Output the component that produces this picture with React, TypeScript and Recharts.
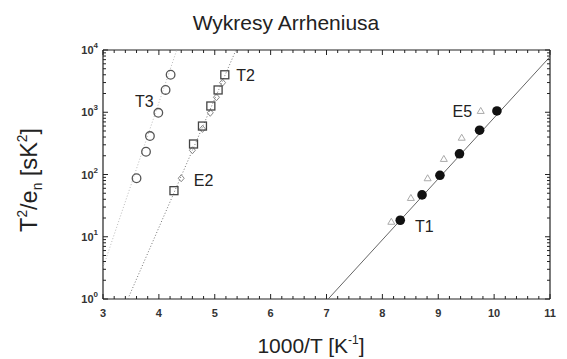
import React from 'react';
import { ScatterChart, Scatter, XAxis, YAxis, ReferenceDot } from 'recharts';

// measured points (1000/T, T^2/e_n)
const t3 = [
  { x: 3.6, y: 87 }, { x: 3.77, y: 232 }, { x: 3.84, y: 415 },
  { x: 3.99, y: 980 }, { x: 4.12, y: 2280 }, { x: 4.21, y: 4000 },
];
const t2 = [
  { x: 4.27, y: 55 }, { x: 4.62, y: 309 }, { x: 4.78, y: 600 },
  { x: 4.93, y: 1260 }, { x: 5.06, y: 2280 }, { x: 5.18, y: 4000 },
];
const e2 = [
  { x: 4.4, y: 87 }, { x: 4.6, y: 245 }, { x: 4.78, y: 540 },
  { x: 4.92, y: 980 }, { x: 5.03, y: 1740 }, { x: 5.14, y: 2990 },
];
const t1 = [
  { x: 8.32, y: 18.4 }, { x: 8.71, y: 47 }, { x: 9.03, y: 97 },
  { x: 9.38, y: 215 }, { x: 9.74, y: 515 }, { x: 10.05, y: 1050 },
];
const e5 = [
  { x: 8.16, y: 17.4 }, { x: 8.51, y: 42 }, { x: 8.81, y: 87 },
  { x: 9.1, y: 178 }, { x: 9.42, y: 390 }, { x: 9.76, y: 1050 },
];

// fitted lines
const t3Fit = [{ x: 3, y: 3.2 }, { x: 4.32, y: 10000 }];
const t2Fit = [{ x: 3.445, y: 1 }, { x: 5.38, y: 10000 }];
const t1Fit = [{ x: 7.03, y: 1 }, { x: 11, y: 7800 }];

const labels = [
  { text: 'T3', x: 3.74, y: 1480 },
  { text: 'T2', x: 5.55, y: 3980 },
  { text: 'E2', x: 4.8, y: 81 },
  { text: 'E5', x: 9.43, y: 1050 },
  { text: 'T1', x: 8.75, y: 14.8 },
];

const xMajor = [3, 4, 5, 6, 7, 8, 9, 10, 11];
const yMajor = [1, 10, 100, 1000, 10000];

const xTicks: number[] = [];
for (let i = 0; i <= 40; i++) xTicks.push(Math.round((3 + i * 0.2) * 10) / 10);
const yTicks: number[] = [];
for (let e = 0; e < 4; e++) for (let m = 1; m < 10; m++) yTicks.push(m * Math.pow(10, e));
yTicks.push(10000);

const FONT = '"Liberation Sans", Arial, sans-serif';
const INK = '#222';

const XTick = ({ x, y, payload, side }: any) => {
  const v = payload.value;
  const major = xMajor.includes(v);
  const len = major ? 5 : 3;
  const dir = side === 'bottom' ? -1 : 1;
  return (
    <g>
      <line x1={x} y1={y} x2={x} y2={y + dir * len} stroke={INK} strokeWidth={1} />
      {major && side === 'bottom' && (
        <text x={x} y={y + 18} textAnchor="middle" fontSize={11} fontWeight="bold" fontFamily={FONT} fill="#333">
          {v}
        </text>
      )}
    </g>
  );
};

const YTick = ({ x, y, payload, side }: any) => {
  const v = payload.value;
  const major = yMajor.includes(v);
  const len = major ? 5 : 3;
  const dir = side === 'left' ? 1 : -1;
  const exp = Math.round(Math.log10(v));
  return (
    <g>
      <line x1={x} y1={y} x2={x + dir * len} y2={y} stroke={INK} strokeWidth={1} />
      {major && side === 'left' && (
        <text x={x - 5} y={y + 4} textAnchor="end" fontSize={11} fontWeight="bold" fontFamily={FONT} fill="#333">
          <tspan>10</tspan>
          <tspan dy={-6} fontSize={8}>{exp}</tspan>
        </text>
      )}
    </g>
  );
};

const circle = (p: any) => <circle cx={p.cx} cy={p.cy} r={4.3} fill="none" stroke="#555" strokeWidth={1.3} />;
const dot = (p: any) => <circle cx={p.cx} cy={p.cy} r={4.8} fill="#111" />;
const square = (p: any) => (
  <rect x={p.cx - 4} y={p.cy - 4} width={8} height={8} fill="none" stroke="#444" strokeWidth={1.3} />
);
const diamond = (p: any) => (
  <path d={`M${p.cx},${p.cy - 3.5}L${p.cx + 3},${p.cy}L${p.cx},${p.cy + 3.5}L${p.cx - 3},${p.cy}Z`} fill="none" stroke="#888" strokeWidth={1} />
);
const triangle = (p: any) => (
  <path d={`M${p.cx},${p.cy - 3.5}L${p.cx + 3.5},${p.cy + 2.5}L${p.cx - 3.5},${p.cy + 2.5}Z`} fill="none" stroke="#aaa" strokeWidth={1} />
);
const none = () => null;

export default function App() {
  return (
    <div style={{ position: 'absolute', left: 0, top: 0, width: 567, height: 359, background: '#fff', fontFamily: FONT }}>
      <svg width={567} height={359} style={{ position: 'absolute', left: 0, top: 0 }}>
        <text x={286} y={30} textAnchor="middle" fontSize={21} fontFamily={FONT} fill={INK}>Wykresy Arrheniusa</text>
        <text x={311} y={353} textAnchor="middle" fontSize={21} fontFamily={FONT} fill={INK}>
          1000/T [K<tspan dy={-9} fontSize={12}>-1</tspan><tspan dy={9}>]</tspan>
        </text>
        <text
          transform="translate(37,180) rotate(-90)" textAnchor="middle" fontSize={24} fontFamily={FONT} fill={INK}
          textLength={104} lengthAdjust="spacingAndGlyphs"
        >
          T<tspan dy={-10} fontSize={14}>2</tspan><tspan dy={10}>/e</tspan><tspan dy={5} fontSize={14}>n</tspan>
          <tspan dy={-5}> [sK</tspan><tspan dy={-10} fontSize={14}>2</tspan><tspan dy={10}>]</tspan>
        </text>
      </svg>
      <div style={{ position: 'absolute', left: 0, top: 0 }}>
        <ScatterChart width={567} height={359} margin={{ top: 49, right: 16, bottom: 59, left: 102 }}>
          <XAxis
            xAxisId="b" dataKey="x" type="number" domain={[3, 11]} ticks={xTicks} interval={0}
            height={1} tickSize={0} tickMargin={0} tickLine={false} stroke={INK} strokeWidth={1.2}
            tick={(p: any) => <XTick {...p} side="bottom" />} allowDataOverflow
          />
          <XAxis
            xAxisId="t" orientation="top" dataKey="x" type="number" domain={[3, 11]} ticks={xTicks} interval={0}
            height={1} tickSize={0} tickMargin={0} tickLine={false} stroke={INK} strokeWidth={1.2}
            tick={(p: any) => <XTick {...p} side="top" />} allowDataOverflow
          />
          <YAxis
            yAxisId="l" dataKey="y" type="number" scale="log" domain={[1, 10000]} ticks={yTicks} interval={0}
            width={1} tickSize={0} tickMargin={0} tickLine={false} stroke={INK} strokeWidth={1.2}
            tick={(p: any) => <YTick {...p} side="left" />} allowDataOverflow
          />
          <YAxis
            yAxisId="r" orientation="right" dataKey="y" type="number" scale="log" domain={[1, 10000]} ticks={yTicks} interval={0}
            width={1} tickSize={0} tickMargin={0} tickLine={false} stroke={INK} strokeWidth={1.2}
            tick={(p: any) => <YTick {...p} side="right" />} allowDataOverflow
          />
          <Scatter xAxisId="b" yAxisId="l" data={t3Fit} shape={none} line={{ stroke: '#bbb', strokeWidth: 1, strokeDasharray: '1 2' }} isAnimationActive={false} />
          <Scatter xAxisId="b" yAxisId="l" data={t2Fit} shape={none} line={{ stroke: '#777', strokeWidth: 1, strokeDasharray: '1 2' }} isAnimationActive={false} />
          <Scatter xAxisId="b" yAxisId="l" data={t1Fit} shape={none} line={{ stroke: '#666', strokeWidth: 1 }} isAnimationActive={false} />
          <Scatter xAxisId="b" yAxisId="l" data={t3} shape={circle} isAnimationActive={false} />
          <Scatter xAxisId="b" yAxisId="l" data={e2} shape={diamond} isAnimationActive={false} />
          <Scatter xAxisId="b" yAxisId="l" data={t2} shape={square} isAnimationActive={false} />
          <Scatter xAxisId="b" yAxisId="l" data={e5} shape={triangle} isAnimationActive={false} />
          <Scatter xAxisId="b" yAxisId="l" data={t1} shape={dot} isAnimationActive={false} />
          {labels.map((l) => (
            <ReferenceDot
              key={l.text} xAxisId="b" yAxisId="l" x={l.x} y={l.y} r={0} stroke="none"
              label={{ value: l.text, position: 'center', fontSize: 16, fill: INK, fontFamily: FONT }}
            />
          ))}
        </ScatterChart>
      </div>
    </div>
  );
}
